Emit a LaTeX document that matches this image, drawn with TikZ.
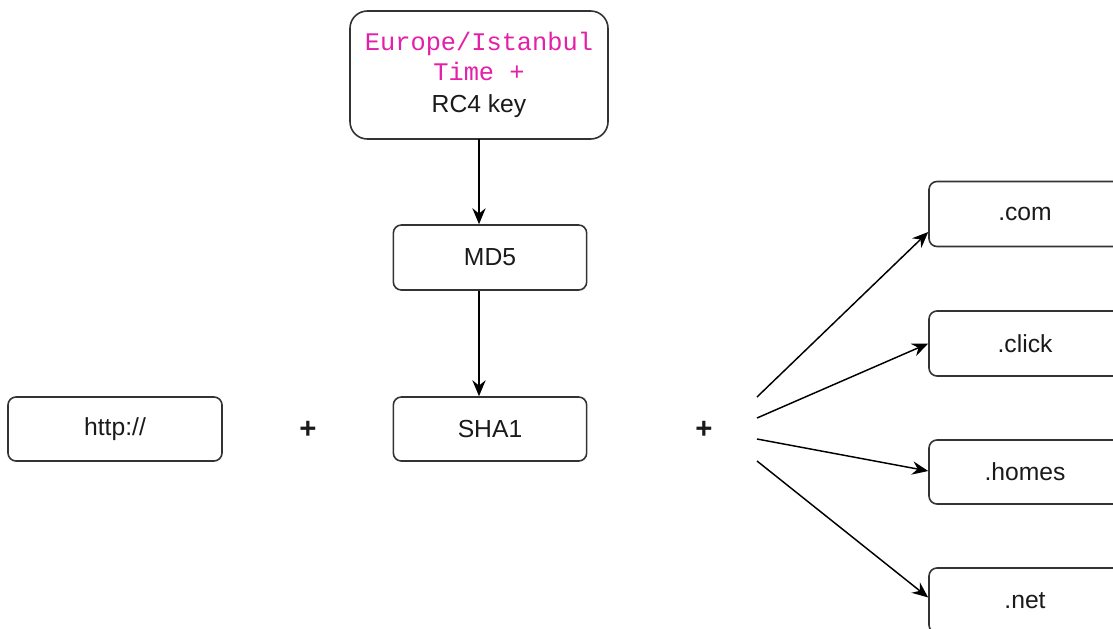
\documentclass[tikz,border=0pt]{standalone}
\usepackage{fontspec}
\setmainfont{Liberation Sans}
\newfontfamily\monof{Liberation Mono}
\usetikzlibrary{arrows.meta,calc}
\definecolor{boxline}{HTML}{333333}
\definecolor{magtext}{HTML}{E41FA8}
\definecolor{txt}{HTML}{1A1A1A}
\begin{document}
\begin{tikzpicture}[x=0.75pt,y=-0.75pt,
  every node/.style={font=\fontsize{18.5pt}{23pt}\selectfont,text=txt},
  box/.style={draw=boxline,line width=1.2pt,rounded corners=6pt,inner sep=0pt,fill=white},
  conn/.style={draw=black,line width=1.1pt,-{Stealth[length=12pt,width=10pt,inset=4pt]}},
  plus/.style={font=\fontsize{22pt}{26pt}\selectfont\bfseries}]
\useasboundingbox (0,0) rectangle (1113,628);
\clip (0,0) rectangle (1113,628);
\node[box,rounded corners=13pt,minimum width=193.5pt,minimum height=96pt,align=center] (top) at (479,75)
  {{\monof\fontsize{19pt}{23pt}\selectfont\color{magtext}Europe/Istanbul}\\[-0.5pt]{\monof\fontsize{19pt}{23pt}\selectfont\color{magtext}Time +}\\[1.5pt]RC4 key};
\node[box,minimum width=145pt,minimum height=48.75pt] (md5) at (490,257.5) {MD5};
\node[box,minimum width=145pt,minimum height=48pt] (sha1) at (490,429) {SHA1};
\node[box,minimum width=160.5pt,minimum height=48pt] (http) at (115,429) {http://};
\node[plus] (p1) at (308,430) {+};
\node[plus] (p2) at (704,430) {+};
\node[box,minimum width=144pt,minimum height=48.75pt] (com) at (1025,214) {.com};
\node[box,minimum width=144pt,minimum height=48.75pt] (click) at (1025,343.5) {.click};
\node[box,minimum width=144pt,minimum height=48pt] (homes) at (1025,472) {.homes};
\node[box,minimum width=144pt,minimum height=48.75pt] (net) at (1025,600.5) {.net};
\coordinate (s1) at (757,397);
\coordinate (s2) at (757,418);
\coordinate (s3) at (757,439);
\coordinate (s4) at (757,461);
\draw[conn] (top.south |- 0,139) -- (top.south |- md5.north);
\draw[conn] (md5.south -| top.south) -- (sha1.north -| top.south);
\draw[conn] (s1) -- ($(com.west)+(0,18)$);
\draw[conn] (s2) -- ($(click.west)+(0,0)$);
\draw[conn] (s3) -- ($(homes.west)+(0,-1)$);
\draw[conn] (s4) -- ($(net.west)+(0,-3)$);
\end{tikzpicture}
\end{document}
